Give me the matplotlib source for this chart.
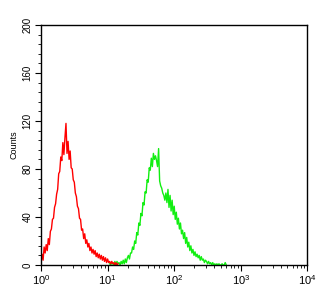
import numpy as np
import matplotlib
matplotlib.use('Agg')
from matplotlib import pyplot as plt
from matplotlib.ticker import MultipleLocator, LogLocator, NullFormatter

# Histogram counts, one value every 4 channels (256 channels per decade)
red_start_ch = 0
red_counts = [2, 9, 4, 15, 10, 17, 12, 22, 17, 28, 30, 38, 39, 48, 51, 59, 63, 76, 78, 90,
              87, 102, 92, 106, 118, 93, 103, 88, 95, 81, 80, 71, 69, 60, 57, 49, 47, 39, 38, 29,
              30, 22, 26, 18, 21, 15, 18, 12, 15, 10, 13, 9, 12, 7, 10, 6, 9, 5, 8, 4,
              7, 3, 6, 2, 5, 2, 3, 1, 3, 1, 2, 0, 2, 0, 1]

green_start_ch = 264
green_counts = [1, 0, 2, 1, 0, 3, 0, 3, 1, 2, 0, 3, 1, 4, 1, 5, 2, 6, 8, 5,
                10, 10, 15, 13, 20, 18, 27, 25, 35, 33, 43, 41, 52, 50, 61, 60, 71, 69, 81, 79,
                89, 82, 93, 88, 91, 87, 82, 97, 70, 66, 64, 60, 58, 54, 60, 52, 63, 48, 58, 45,
                54, 42, 49, 38, 44, 34, 39, 30, 35, 26, 29, 22, 27, 18, 23, 15, 19, 12, 16, 10,
                13, 8, 11, 7, 9, 6, 8, 4, 7, 4, 5, 2, 4, 3, 1, 3, 1, 2, 0, 2,
                0, 1, 0, 1, 0, 1, 0, 0, 1, 0, 0, 2, 0]

y_ticks = [0, 40, 80, 120, 160, 200]
x_ticks = [1, 10, 100, 1000, 10000]
x_labels = ['$10^{0}$', '$10^{1}$', '$10^{2}$', '$10^{3}$', '$10^{4}$']

plt.rcParams['font.family'] = ['Liberation Sans', 'DejaVu Sans']
plt.rcParams['mathtext.default'] = 'regular'

fig = plt.figure(figsize=(3.32, 3.01), dpi=100)
ax = fig.add_axes([0.1235, 0.1196, 0.8025, 0.7974])

ch_red = red_start_ch + 4 * np.arange(len(red_counts))
ch_green = green_start_ch + 4 * np.arange(len(green_counts))
ax.plot(10 ** (ch_green / 256.0), green_counts, color='#11ee11', lw=1.0)
ax.plot(10 ** (ch_red / 256.0), red_counts, color='#ff0000', lw=1.0)

ax.set_xscale('log')
ax.set_xlim(1, 10000)
ax.set_ylim(0, 200)

ax.set_yticks(y_ticks)
ax.set_yticklabels([str(v) for v in y_ticks], rotation=90, va='center', fontsize=7)
ax.yaxis.set_minor_locator(MultipleLocator(8))
ax.set_xticks(x_ticks)
ax.set_xticklabels(x_labels, fontsize=8)
ax.xaxis.set_minor_locator(LogLocator(base=10, subs=np.arange(2, 10)))
ax.xaxis.set_minor_formatter(NullFormatter())

ax.tick_params(which='major', direction='out', length=4, width=0.8, pad=2)
ax.tick_params(which='minor', direction='out', length=2, width=0.6)
ax.tick_params(top=False, right=False)
for s in ax.spines.values():
    s.set_linewidth(1.0)

ax.set_ylabel('Counts', fontsize=6.5, labelpad=3)

plt.savefig('out.png', dpi=100)
